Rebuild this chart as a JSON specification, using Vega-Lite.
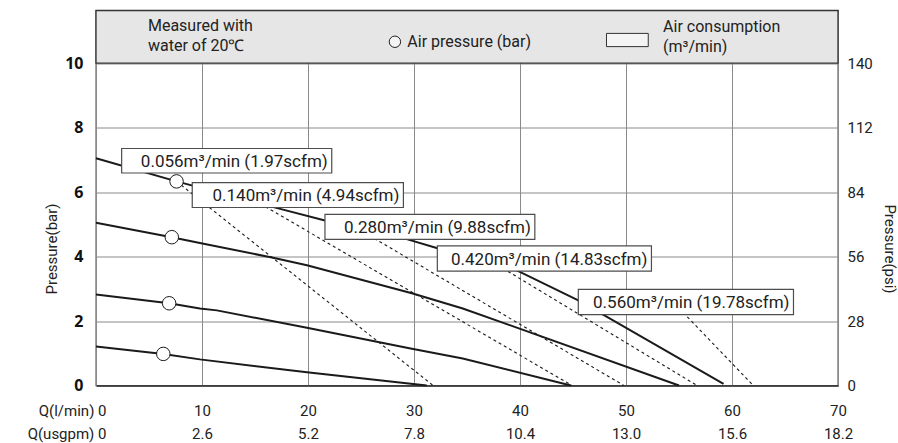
{
  "$schema": "https://vega.github.io/schema/vega-lite/v6.json",
  "width": 742,
  "height": 375,
  "autosize": {"type": "none"},
  "padding": {"left": 96, "top": 10.5, "right": 60, "bottom": 57.5},
  "background": "white",
  "config": {
    "view": {"stroke": "#333333", "strokeWidth": 1.3},
    "font": "Roboto",
    "axis": {"labelFont": "Roboto", "titleFont": "Roboto"}
  },
  "datasets": {
    "header": [{"x": 0, "x2": 70, "y": 10, "y2": 11.63}],
    "curves": [
      {"series": "a", "x": 0, "y": 7.05},
      {"series": "a", "x": 7.6, "y": 6.33},
      {"series": "a", "x": 17.1, "y": 5.5},
      {"series": "a", "x": 21.6, "y": 5.12},
      {"series": "a", "x": 29.0, "y": 4.57},
      {"series": "a", "x": 32.3, "y": 4.25},
      {"series": "a", "x": 39.7, "y": 3.57},
      {"series": "a", "x": 45.5, "y": 2.64},
      {"series": "a", "x": 59.2, "y": 0.05},
      {"series": "b", "x": 0, "y": 5.05},
      {"series": "b", "x": 7.15, "y": 4.6},
      {"series": "b", "x": 9.8, "y": 4.42},
      {"series": "b", "x": 16.6, "y": 3.97},
      {"series": "b", "x": 19.9, "y": 3.73},
      {"series": "b", "x": 29.8, "y": 2.86},
      {"series": "b", "x": 34.6, "y": 2.39},
      {"series": "b", "x": 55.0, "y": 0},
      {"series": "c", "x": 0, "y": 2.82},
      {"series": "c", "x": 6.9, "y": 2.55},
      {"series": "c", "x": 9.8, "y": 2.39},
      {"series": "c", "x": 11.4, "y": 2.33},
      {"series": "c", "x": 19.9, "y": 1.79},
      {"series": "c", "x": 29.8, "y": 1.14},
      {"series": "c", "x": 34.6, "y": 0.84},
      {"series": "c", "x": 44.8, "y": 0},
      {"series": "d", "x": 0, "y": 1.21},
      {"series": "d", "x": 6.35, "y": 0.98},
      {"series": "d", "x": 9.8, "y": 0.81},
      {"series": "d", "x": 19.9, "y": 0.41},
      {"series": "d", "x": 31.2, "y": 0}
    ],
    "dashed": [
      {"series": "d1", "x": 7.6, "y": 6.33},
      {"series": "d1", "x": 31.8, "y": 0},
      {"series": "d2", "x": 15.5, "y": 5.64},
      {"series": "d2", "x": 44.9, "y": 0},
      {"series": "d3", "x": 24.3, "y": 4.94},
      {"series": "d3", "x": 49.8, "y": 0},
      {"series": "d4", "x": 37.9, "y": 3.73},
      {"series": "d4", "x": 56.7, "y": 0},
      {"series": "d5", "x": 55.0, "y": 2.4},
      {"series": "d5", "x": 62.0, "y": 0}
    ],
    "circles": [
      {"x": 7.6, "y": 6.33},
      {"x": 7.15, "y": 4.6},
      {"x": 6.9, "y": 2.55},
      {"x": 6.35, "y": 0.98}
    ],
    "boxes": [
      {"x": 2.42, "x2": 22.24, "y": 6.59, "y2": 7.35, "label": "0.056m³/min (1.97scfm)"},
      {"x": 9.08, "x2": 29.0, "y": 5.52, "y2": 6.29, "label": "0.140m³/min (4.94scfm)"},
      {"x": 21.6, "x2": 41.4, "y": 4.53, "y2": 5.31, "label": "0.280m³/min (9.88scfm)"},
      {"x": 32.2, "x2": 52.4, "y": 3.55, "y2": 4.33, "label": "0.420m³/min (14.83scfm)"},
      {"x": 45.5, "x2": 65.8, "y": 2.2, "y2": 2.98, "label": "0.560m³/min (19.78scfm)"}
    ],
    "htext": [
      {"x": 4.9, "y": 11.15, "label": "Measured with\nwater of 20℃"},
      {"x": 29.37, "y": 10.66, "label": "Air pressure (bar)"},
      {"x": 53.5, "y": 11.12, "label": "Air consumption\n(m³/min)"}
    ],
    "legendbox": [{"x": 48.16, "x2": 52.1, "y": 10.51, "y2": 10.92}],
    "legendcircle": [{"x": 28.2, "y": 10.66}],
    "psi": [{"psi": 0}]
  },
  "layer": [
    {
      "layer": [
        {
          "data": {"name": "header"},
          "mark": {"type": "rect", "fill": "#e6e6e6", "stroke": "#333333", "strokeWidth": 1.3},
          "encoding": {
            "x": {
              "field": "x", "type": "quantitative",
              "scale": {"domain": [0, 70], "nice": false, "zero": false},
              "axis": {
                "values": [0, 10, 20, 30, 40, 50, 60, 70],
                "title": null,
                "grid": true, "gridColor": "#8a8a8a", "gridWidth": 1,
                "ticks": false,
                "domain": true, "domainColor": "#333333", "domainWidth": 1.3,
                "labelFlush": false, "labelOverlap": false,
                "labelFontSize": 15, "labelColor": "#222222",
                "labelPadding": 18,
                "labelLineHeight": 23,
                "labelBaseline": "top",
                "labelAlign": {"condition": {"test": "datum.value == 0", "value": "right"}, "value": "center"},
                "labelOffset": {"condition": {"test": "datum.value == 0", "value": 10}, "value": 0},
                "labelExpr": "datum.value == 0 ? ['Q(l/min) 0', 'Q(usgpm) 0'] : [format(datum.value, 'd'), format(datum.value * 0.26, '.1f')]"
              }
            },
            "x2": {"field": "x2"},
            "y": {
              "field": "y", "type": "quantitative",
              "scale": {"domain": [0, 11.63], "nice": false, "zero": false},
              "axis": {
                "values": [0, 2, 4, 6, 8, 10],
                "title": "Pressure(bar)",
                "grid": true, "gridColor": "#8a8a8a", "gridWidth": 1,
                "ticks": false, "domain": false,
                "labelFont": "Open Sans", "labelFontSize": 16, "labelFontWeight": "bold", "labelColor": "#111111",
                "labelPadding": 13,
                "titleFontSize": 15, "titleFontWeight": "normal", "titleColor": "#222222",
                "titlePadding": 5, "titleY": 238
              }
            },
            "y2": {"field": "y2"}
          }
        },
        {
          "data": {"name": "curves"},
          "mark": {"type": "line", "color": "#1a1a1a", "strokeWidth": 2},
          "encoding": {
            "x": {"field": "x", "type": "quantitative"},
            "y": {"field": "y", "type": "quantitative"},
            "detail": {"field": "series"}
          }
        },
        {
          "data": {"name": "dashed"},
          "mark": {"type": "line", "color": "#1a1a1a", "strokeWidth": 1.1, "strokeDash": [3, 3]},
          "encoding": {
            "x": {"field": "x", "type": "quantitative"},
            "y": {"field": "y", "type": "quantitative"},
            "detail": {"field": "series"}
          }
        },
        {
          "data": {"name": "circles"},
          "mark": {"type": "point", "shape": "circle", "filled": true, "fill": "white", "stroke": "#1a1a1a", "strokeWidth": 1, "size": 182, "opacity": 1},
          "encoding": {
            "x": {"field": "x", "type": "quantitative"},
            "y": {"field": "y", "type": "quantitative"}
          }
        },
        {
          "data": {"name": "boxes"},
          "mark": {"type": "rect", "fill": "white", "stroke": "#4d4d4d", "strokeWidth": 1.2},
          "encoding": {
            "x": {"field": "x", "type": "quantitative"},
            "x2": {"field": "x2"},
            "y": {"field": "y", "type": "quantitative"},
            "y2": {"field": "y2"}
          }
        },
        {
          "data": {"name": "boxes"},
          "mark": {"type": "text", "align": "right", "baseline": "alphabetic", "dx": -4, "dy": -6.5, "fontSize": 17, "color": "#222222"},
          "encoding": {
            "x": {"field": "x2", "type": "quantitative"},
            "y": {"field": "y", "type": "quantitative"},
            "text": {"field": "label"}
          }
        },
        {
          "data": {"name": "legendbox"},
          "mark": {"type": "rect", "fill": "#f4f4f4", "stroke": "#333333", "strokeWidth": 1},
          "encoding": {
            "x": {"field": "x", "type": "quantitative"},
            "x2": {"field": "x2"},
            "y": {"field": "y", "type": "quantitative"},
            "y2": {"field": "y2"}
          }
        },
        {
          "data": {"name": "legendcircle"},
          "mark": {"type": "point", "shape": "circle", "filled": true, "fill": "#f4f4f4", "stroke": "#222222", "strokeWidth": 1, "size": 130, "opacity": 1},
          "encoding": {
            "x": {"field": "x", "type": "quantitative"},
            "y": {"field": "y", "type": "quantitative"}
          }
        },
        {
          "data": {"name": "htext"},
          "mark": {"type": "text", "align": "left", "baseline": "middle", "fontSize": 16, "lineBreak": "\n", "lineHeight": 20, "color": "#222222"},
          "encoding": {
            "x": {"field": "x", "type": "quantitative"},
            "y": {"field": "y", "type": "quantitative"},
            "text": {"field": "label"}
          }
        }
      ]
    },
    {
      "data": {"name": "psi"},
      "mark": {"type": "point", "opacity": 0},
      "encoding": {
        "y": {
          "field": "psi", "type": "quantitative",
          "scale": {"domain": [0, 162.82], "nice": false, "zero": false},
          "axis": {
            "orient": "right",
            "values": [0, 28, 56, 84, 112, 140],
            "title": "Pressure(psi)",
            "grid": false, "ticks": false, "domain": false,
            "labelFontSize": 15, "labelColor": "#222222", "labelPadding": 9,
            "titleFontSize": 15, "titleFontWeight": "normal", "titleColor": "#222222",
            "titlePadding": 9, "titleY": 238
          }
        }
      }
    }
  ],
  "resolve": {"scale": {"y": "independent"}, "axis": {"y": "independent"}}
}
